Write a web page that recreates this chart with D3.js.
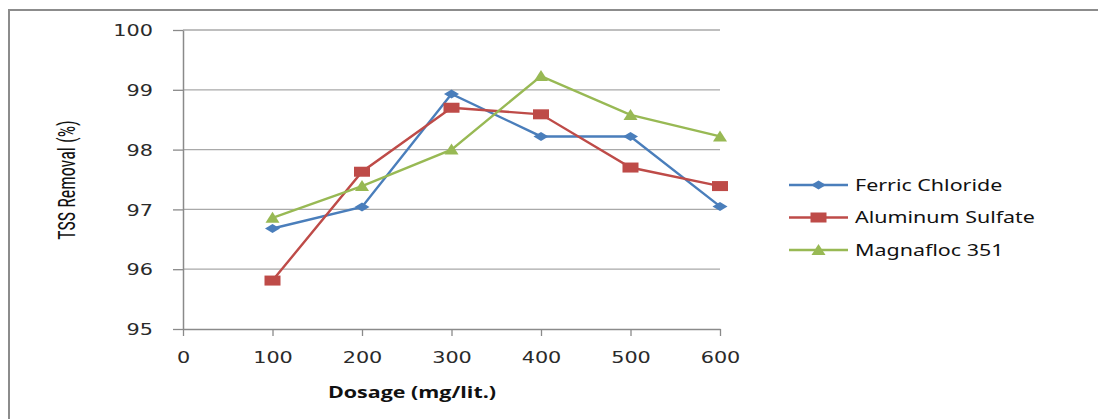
<!DOCTYPE html>
<html>
<head>
<meta charset="UTF-8">
<title>TSS Removal vs Dosage</title>
<style>
  body { margin: 0; background: #fff; }
  svg { display: block; }
</style>
</head>
<body>
<div id="chart"></div>
<script src="https://d3js.org/d3.v7.min.js"></script>
<script>
// data
var dosage = [100, 200, 300, 400, 500, 600];
var ferricChloride = [96.68, 97.04, 98.93, 98.22, 98.22, 97.05];
var aluminumSulfate = [95.81, 97.63, 98.70, 98.59, 97.70, 97.39];
var magnafloc351 = [96.86, 97.39, 98.00, 99.23, 98.58, 98.22];
var seriesNames = ["Ferric Chloride", "Aluminum Sulfate", "Magnafloc 351"];
var xTicks = [0, 100, 200, 300, 400, 500, 600];
var yTicks = [95, 96, 97, 98, 99, 100];

var W = 1098, H = 419;
var margin = { top: 30, left: 183, right: 378, bottom: 90 };
var width = W - margin.left - margin.right,
    height = H - margin.top - margin.bottom;
var stretch = 1.3; // the source image is widened horizontally

var svg = d3.select("#chart").append("svg")
    .attr("width", W)
    .attr("height", H);

// outer chart border (only top and left edges are in frame)
svg.append("path")
    .attr("d", "M9,419 L9,10 L1098,10")
    .attr("fill", "none")
    .attr("stroke", "#8c8c8c")
    .attr("stroke-width", 2);

var g = svg.append("g")
    .attr("transform", "translate(" + margin.left + "," + margin.top + ")");

var x = d3.scaleLinear().domain([0, 600]).range([0, width]);
var y = d3.scaleLinear().domain([95, 100]).range([height, 0]);

// gridlines
g.append("g")
    .selectAll("line")
    .data(yTicks.slice(1))
    .enter().append("line")
    .attr("x1", 0).attr("x2", width)
    .attr("y1", function (d) { return y(d); })
    .attr("y2", function (d) { return y(d); })
    .attr("stroke", "#a9a9a9")
    .attr("stroke-width", 1.3);

// y axis
var yAxis = g.append("g")
    .call(d3.axisLeft(y).tickValues(yTicks).tickFormat(d3.format("d")).tickSize(10).tickSizeOuter(0));
yAxis.select(".domain").attr("stroke", "#8a8a8a").attr("stroke-width", 1.5);
yAxis.selectAll(".tick line").attr("stroke", "#8a8a8a").attr("stroke-width", 1.3);
yAxis.selectAll("text")
    .attr("x", -30 / stretch)
    .attr("dy", "0.36em")
    .attr("transform", "scale(" + stretch + ",1)")
    .style("font-family", "DejaVu Sans, Verdana, sans-serif")
    .style("font-size", "16px")
    .style("fill", "#2a2a2a");

// x axis
var xAxis = g.append("g")
    .attr("transform", "translate(0," + height + ")")
    .call(d3.axisBottom(x).tickValues(xTicks).tickSize(7).tickSizeOuter(0));
xAxis.select(".domain").attr("stroke", "#8a8a8a").attr("stroke-width", 1.5);
xAxis.selectAll(".tick line").attr("stroke", "#8a8a8a").attr("stroke-width", 1.3);
xAxis.selectAll("text")
    .attr("y", 34)
    .attr("dy", 0)
    .attr("transform", "scale(" + stretch + ",1)")
    .style("font-family", "DejaVu Sans, Verdana, sans-serif")
    .style("font-size", "16px")
    .style("fill", "#2a2a2a");

// axis titles
svg.append("text")
    .attr("transform", "translate(412,398) scale(" + stretch + ",1)")
    .attr("text-anchor", "middle")
    .style("font-family", "Open Sans, sans-serif")
    .style("font-weight", "bold")
    .style("font-size", "16.5px")
    .style("fill", "#111")
    .text("Dosage (mg/lit.)");

svg.append("text")
    .attr("transform", "translate(75,180) scale(" + stretch + ",1) rotate(-90)")
    .attr("text-anchor", "middle")
    .style("font-family", "Liberation Sans Narrow, Roboto, sans-serif")
    .style("font-stretch", "condensed")
    .style("font-size", "18px")
    .style("fill", "#111")
    .text("TSS Removal (%)");

// series
var colors = ["#4a7ebb", "#be4b48", "#98b954"];
var values = [ferricChloride, aluminumSulfate, magnafloc351];
var shapes = ["diamond", "square", "triangle"];

var line = d3.line()
    .x(function (d, i) { return x(dosage[i]); })
    .y(function (d) { return y(d); });

function marker(sel, shape, color) {
    if (shape === "diamond") {
        sel.append("path").attr("d", "M-7.5,0 L0,-4.5 L7.5,0 L0,4.5 Z").attr("fill", color);
    } else if (shape === "square") {
        sel.append("rect").attr("x", -8).attr("y", -5).attr("width", 16).attr("height", 10).attr("fill", color);
    } else {
        sel.append("path").attr("d", "M-7,5 L0,-6 L7,5 Z").attr("fill", color);
    }
}

values.forEach(function (vals, k) {
    var sg = g.append("g");
    sg.append("path")
        .datum(vals)
        .attr("d", line)
        .attr("fill", "none")
        .attr("stroke", colors[k])
        .attr("stroke-width", 2.4);
    vals.forEach(function (v, i) {
        var m = sg.append("g")
            .attr("transform", "translate(" + x(dosage[i]) + "," + y(v) + ")");
        marker(m, shapes[k], colors[k]);
    });
});

// legend
var legend = svg.append("g").attr("transform", "translate(789,185)");
seriesNames.forEach(function (name, k) {
    var row = legend.append("g").attr("transform", "translate(0," + (k * 32.5) + ")");
    row.append("line")
        .attr("x1", 0).attr("x2", 59)
        .attr("stroke", colors[k])
        .attr("stroke-width", 2.4);
    var m = row.append("g").attr("transform", "translate(29.5,0)");
    marker(m, shapes[k], colors[k]);
    row.append("text")
        .attr("transform", "translate(66,0) scale(" + stretch + ",1)")
        .attr("dy", "0.36em")
        .style("font-family", "Noto Sans, sans-serif")
        .style("font-size", "16.5px")
        .style("fill", "#111")
        .text(name);
});
</script>
</body>
</html>
